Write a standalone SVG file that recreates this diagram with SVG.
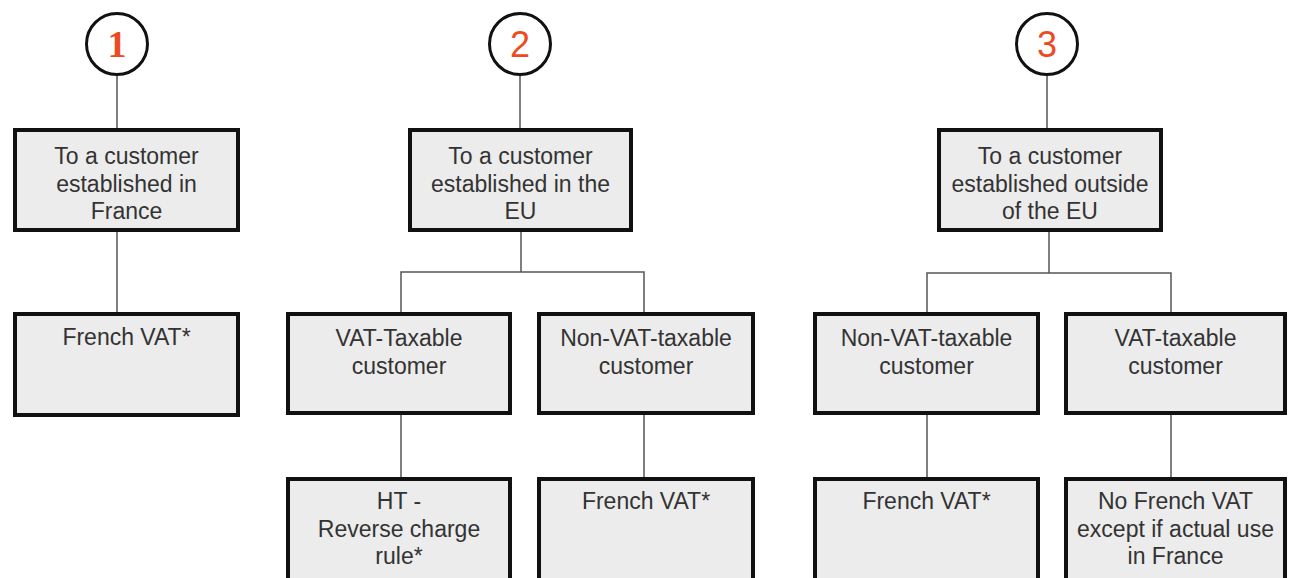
<svg xmlns="http://www.w3.org/2000/svg" width="1289" height="578" viewBox="0 0 1289 578">
<style>
.box{fill:#ececec;stroke:#111;stroke-width:4}
.t{font-family:"Liberation Sans",Arial,sans-serif;font-size:23px;fill:#333;text-anchor:middle}
.c{fill:#fff;stroke:#111;stroke-width:3}
.n{font-size:36px;fill:#ee4a22;text-anchor:middle;font-family:"Liberation Sans",Arial,sans-serif}
.ns{font-family:"Liberation Serif","Times New Roman",serif;font-weight:bold;font-size:38px}
.ln{stroke:#555;stroke-width:1.5;fill:none}
</style>
<rect width="1289" height="578" fill="#fff"/>
<g id="connectors">
<line class="ln" x1="117" y1="75" x2="117" y2="130"/>
<line class="ln" x1="117" y1="230" x2="117" y2="314"/>
<line class="ln" x1="520" y1="75" x2="520" y2="130"/>
<polyline class="ln" points="521,230 521,272"/>
<polyline class="ln" points="401,314 401,272 644,272 644,314"/>
<line class="ln" x1="401" y1="413" x2="401" y2="479"/>
<line class="ln" x1="644" y1="413" x2="644" y2="479"/>
<line class="ln" x1="1047" y1="75" x2="1047" y2="130"/>
<polyline class="ln" points="1049,230 1049,273"/>
<polyline class="ln" points="927,314 927,273 1171,273 1171,314"/>
<line class="ln" x1="927" y1="413" x2="927" y2="479"/>
<line class="ln" x1="1171" y1="413" x2="1171" y2="479"/>
</g>
<g id="c1"><circle class="c" cx="117" cy="44" r="30.5"/><text class="n ns" x="117" y="57">1</text></g>
<g id="c2"><circle class="c" cx="520" cy="44" r="30.5"/><text class="n" x="520" y="57">2</text></g>
<g id="c3"><circle class="c" cx="1047" cy="44" r="30.5"/><text class="n" x="1047" y="57">3</text></g>
<g id="france"><rect class="box" x="15" y="130" width="223" height="100"/><text class="t" x="126.5" y="164">To a customer</text><text class="t" x="126.5" y="191.5">established in</text><text class="t" x="126.5" y="219">France</text></g>
<g id="eu"><rect class="box" x="410" y="130" width="221" height="100"/><text class="t" x="520.5" y="164">To a customer</text><text class="t" x="520.5" y="191.5">established in the</text><text class="t" x="520.5" y="219">EU</text></g>
<g id="outside"><rect class="box" x="939" y="130" width="222" height="100"/><text class="t" x="1050" y="164">To a customer</text><text class="t" x="1050" y="191.5">established outside</text><text class="t" x="1050" y="219">of the EU</text></g>
<g id="fr-vat"><rect class="box" x="15" y="314" width="223" height="101"/><text class="t" x="126.5" y="345">French VAT*</text></g>
<g id="eu-taxable"><rect class="box" x="288" y="314" width="222" height="99"/><text class="t" x="399" y="346">VAT-Taxable</text><text class="t" x="399" y="373.5">customer</text></g>
<g id="eu-nontaxable"><rect class="box" x="539" y="314" width="214" height="99"/><text class="t" x="646" y="346">Non-VAT-taxable</text><text class="t" x="646" y="373.5">customer</text></g>
<g id="out-nontaxable"><rect class="box" x="815" y="314" width="223" height="99"/><text class="t" x="926.5" y="346">Non-VAT-taxable</text><text class="t" x="926.5" y="373.5">customer</text></g>
<g id="out-taxable"><rect class="box" x="1066" y="314" width="219" height="99"/><text class="t" x="1175.5" y="346">VAT-taxable</text><text class="t" x="1175.5" y="373.5">customer</text></g>
<g id="ht"><rect class="box" x="288" y="479" width="222" height="120"/><text class="t" x="399" y="509">HT -</text><text class="t" x="399" y="536.5">Reverse charge</text><text class="t" x="399" y="564">rule*</text></g>
<g id="eu-fr-vat"><rect class="box" x="539" y="479" width="214" height="120"/><text class="t" x="646" y="509">French VAT*</text></g>
<g id="out-fr-vat"><rect class="box" x="815" y="479" width="223" height="120"/><text class="t" x="926.5" y="509">French VAT*</text></g>
<g id="no-vat"><rect class="box" x="1066" y="479" width="219" height="120"/><text class="t" x="1175.5" y="509">No French VAT</text><text class="t" x="1175.5" y="536.5">except if actual use</text><text class="t" x="1175.5" y="564">in France</text></g>
</svg>
